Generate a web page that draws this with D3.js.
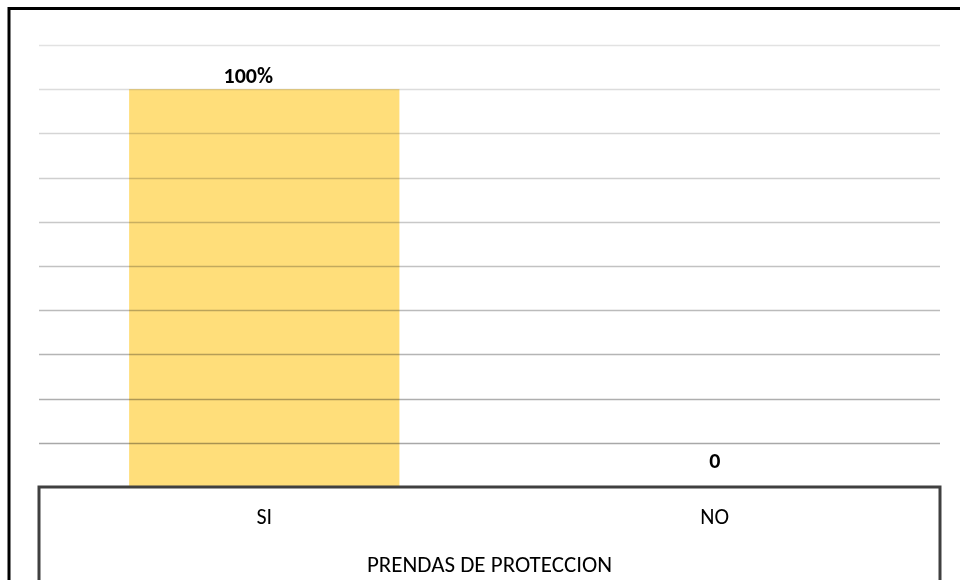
<!DOCTYPE html>
<html>
<head>
<meta charset="utf-8">
<script src="https://cdn.jsdelivr.net/npm/d3@7"></script>
<style>
  body { margin: 0; background: #fff; }
  svg { display: block; font-family: Carlito, Calibri, Lato, sans-serif; }
</style>
</head>
<body>
<div id="chart"></div>
<script>
const categories = ["SI", "NO"];
const values = [9, 0];
const valueLabels = ["100%", "0"];
const gridTicks = [1, 2, 3, 4, 5, 6, 7, 8, 9, 10];
const axisTitle = "PRENDAS DE PROTECCION";

const width = 960;
const height = 580;
const margin = { top: 45, right: 20, bottom: 93, left: 39 };

const svg = d3
  .select("#chart")
  .append("svg")
  .attr("width", width)
  .attr("height", height);

// outer frame (only top and left visible)
svg.append("line")
  .attr("x1", 8).attr("x2", width).attr("y1", 8.5).attr("y2", 8.5)
  .attr("stroke", "#000").attr("stroke-width", 3);
svg.append("line")
  .attr("x1", 9).attr("x2", 9).attr("y1", 7).attr("y2", height)
  .attr("stroke", "#000").attr("stroke-width", 3);

const x = d3
  .scaleBand()
  .domain(categories)
  .range([margin.left, 940])
  .paddingInner(0.4)
  .paddingOuter(0.2);

const y = d3
  .scaleLinear()
  .domain([0, 10])
  .range([height - margin.bottom, margin.top]);

const gridColor = d3.scaleLinear()
  .domain([1, 10])
  .range(["#a8a8a8", "#e2e2e2"]);

// bars
svg.append("g")
  .selectAll("rect")
  .data(values)
  .join("rect")
  .attr("x", (d, i) => x(categories[i]))
  .attr("width", x.bandwidth())
  .attr("y", (d) => y(d))
  .attr("height", (d) => y(0) - y(d))
  .attr("fill", "#ffd966")
  .attr("opacity", 0.87);

// gridlines (drawn over bars, faint)
svg.append("g")
  .selectAll("line")
  .data(gridTicks)
  .join("line")
  .attr("x1", margin.left)
  .attr("x2", 940)
  .attr("y1", (d) => Math.round(y(d)) + 0.5)
  .attr("y2", (d) => Math.round(y(d)) + 0.5)
  .attr("stroke", (d) => gridColor(d))
  .attr("stroke-width", 1.5)
  .style("mix-blend-mode", "multiply");

// value labels (label on a zero bar sits a bit higher, the 100% one is nudged left)
svg.append("g")
  .selectAll("text")
  .data(values)
  .join("text")
  .attr("x", (d, i) => x(categories[i]) + x.bandwidth() / 2 + (d > 0 ? -16 : 0))
  .attr("y", (d) => y(d) - (d > 0 ? 6 : 19))
  .attr("text-anchor", "middle")
  .attr("font-size", "22px")
  .attr("font-weight", "bold")
  .attr("fill", "#000")
  .text((d, i) => valueLabels[i]);

// category axis box
const y0 = y(0);
svg.append("path")
  .attr("d", `M${margin.left},${height} V${y0} H940 V${height}`)
  .attr("fill", "none")
  .attr("stroke", "#404040")
  .attr("stroke-width", 3);

svg.append("g")
  .selectAll("text")
  .data(categories)
  .join("text")
  .attr("x", (d) => x(d) + x.bandwidth() / 2)
  .attr("y", y0 + 37)
  .attr("text-anchor", "middle")
  .attr("font-size", "22px")
  .attr("fill", "#000")
  .text((d) => d);

svg.append("text")
  .attr("x", (margin.left + 940) / 2)
  .attr("y", y0 + 85)
  .attr("text-anchor", "middle")
  .attr("font-size", "23px")
  .attr("fill", "#000")
  .text(axisTitle);
</script>
</body>
</html>
